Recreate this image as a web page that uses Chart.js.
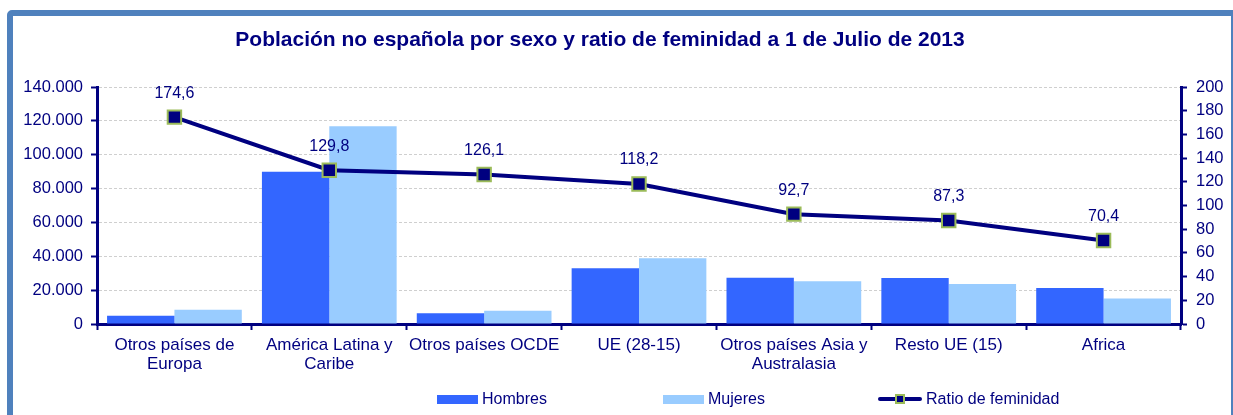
<!DOCTYPE html>
<html>
<head>
<meta charset="utf-8">
<script src="https://cdn.jsdelivr.net/npm/chart.js@4.4.0/dist/chart.umd.min.js"></script>
<style>
  html, body { margin: 0; padding: 0; background: #fff; overflow: hidden; }
  #wrap { position: relative; width: 1233px; height: 415px; overflow: hidden; }
  #frame {
    position: absolute; left: 7px; top: 10px; width: 1230px; height: 420px;
    border: 6px solid #4f81bd; border-radius: 5px; box-sizing: border-box;
  }
  #chart { position: absolute; left: 0; top: 0; }
  #legend {
    position: absolute; left: 437px; top: 389px; height: 20px;
    font-family: "Liberation Sans", Arial, sans-serif;
    font-size: 16px; color: #000080;
  }
  .item { position: absolute; top: 0; display: flex; align-items: center; height: 20px; white-space: nowrap; }
  .box { width: 41px; height: 9px; margin-right: 4px; }
  .lineKey { position: relative; width: 44px; height: 14px; margin-right: 4px; }
  .lineKey .ln { position: absolute; left: 0; right: 0; top: 5px; height: 4px; background: #000080; border-radius: 2px; }
  .lineKey .sq { position: absolute; left: 17px; top: 2px; width: 6px; height: 6px; background: #000080; border: 2px solid #9bbb59; }
</style>
</head>
<body>
<div id="wrap">
  <div id="frame"></div>
  <canvas id="chart" width="1233" height="415"></canvas>
  <div id="legend"></div>
</div>
<script>
// Chart data
const categories = [
    ['Otros países de', 'Europa'],
    ['América Latina y', 'Caribe'],
    'Otros países OCDE',
    'UE (28-15)',
    ['Otros países Asia y', 'Australasia'],
    'Resto UE (15)',
    'Africa'
];
const hombres = [4800, 90000, 6300, 32900, 27300, 27100, 21300];
const mujeres = [8400, 116800, 7900, 38900, 25300, 23600, 15000];
const ratioFeminidad = [174.6, 129.8, 126.1, 118.2, 92.7, 87.3, 70.4];
const leftTicks = [0, 20000, 40000, 60000, 80000, 100000, 120000, 140000];
const rightTicks = [0, 20, 40, 60, 80, 100, 120, 140, 160, 180, 200];
const titleText = 'Población no española por sexo y ratio de feminidad a 1 de Julio de 2013';

const NAVY = '#000080';
const FONT = '"Liberation Sans", Arial, sans-serif';

// Format numbers Spanish style
const fmtThousands = v => v.toLocaleString('de-DE');
const fmtRatio = v => v.toFixed(1).replace('.', ',');

// Title centred on the frame, and value labels above the ratio points
const extras = {
    id: 'extras',
    afterDraw(chart) {
        const ctx = chart.ctx;
        ctx.save();
        ctx.font = 'bold 21px ' + FONT;
        ctx.fillStyle = NAVY;
        ctx.textAlign = 'center';
        ctx.textBaseline = 'middle';
        ctx.fillText(titleText, 600, 40);

        const meta = chart.getDatasetMeta(0);
        ctx.font = '16px ' + FONT;
        ctx.textBaseline = 'bottom';
        meta.data.forEach((pt, i) => {
            ctx.fillText(fmtRatio(ratioFeminidad[i]), pt.x, pt.y - 16);
        });
        ctx.restore();
    }
};

const chart = new Chart(document.getElementById('chart'), {
    type: 'bar',
    data: {
        labels: categories,
        datasets: [
            {
                type: 'line',
                label: 'Ratio de feminidad',
                data: ratioFeminidad,
                yAxisID: 'y1',
                order: 0,
                borderColor: NAVY,
                borderWidth: 4,
                pointStyle: 'rect',
                pointRadius: 9.5,
                pointBackgroundColor: NAVY,
                pointBorderColor: '#9bbb59',
                pointBorderWidth: 2,
                tension: 0
            },
            {
                label: 'Hombres',
                data: hombres,
                yAxisID: 'y',
                order: 1,
                backgroundColor: '#3366ff',
                categoryPercentage: 0.87,
                barPercentage: 1.0
            },
            {
                label: 'Mujeres',
                data: mujeres,
                yAxisID: 'y',
                order: 2,
                backgroundColor: '#99ccff',
                categoryPercentage: 0.87,
                barPercentage: 1.0
            }
        ]
    },
    options: {
        responsive: false,
        animation: false,
        layout: { padding: { top: 87, right: 0, bottom: 30, left: 0 } },
        plugins: {
            legend: { display: false },
            tooltip: { enabled: false },
            title: { display: false }
        },
        scales: {
            x: {
                grid: { offset: true, drawOnChartArea: false, tickColor: NAVY, tickWidth: 2, tickLength: 6 },
                border: { color: NAVY, width: 3 },
                ticks: { color: NAVY, font: { family: FONT, size: 17, lineHeight: 1.12 }, maxRotation: 0, autoSkip: false, padding: 6 },
                afterFit: s => { s.height = 61; }
            },
            y: {
                position: 'left',
                min: 0,
                max: 140000,
                afterBuildTicks: s => { s.ticks = leftTicks.map(v => ({ value: v })); },
                grid: { color: '#cfcfcf', lineWidth: 1, tickColor: NAVY, tickWidth: 2, tickLength: 6 },
                border: { color: NAVY, width: 3, dash: [3, 2] },
                ticks: { color: NAVY, font: { family: FONT, size: 16.5 }, padding: 8, callback: v => fmtThousands(v) },
                afterFit: s => { s.width = 97; }
            },
            y1: {
                position: 'right',
                min: 0,
                max: 200,
                afterBuildTicks: s => { s.ticks = rightTicks.map(v => ({ value: v })); },
                grid: { drawOnChartArea: false, tickColor: NAVY, tickWidth: 2, tickLength: 6 },
                border: { color: NAVY, width: 3 },
                ticks: { color: NAVY, font: { family: FONT, size: 16.5 }, padding: 9 },
                afterFit: s => { s.width = 52; }
            }
        }
    },
    plugins: [extras]
});

// HTML legend built from the datasets
const legend = document.getElementById('legend');
const legendX = [0, 226, 441];
[1, 2, 0].forEach((idx, k) => {
    const ds = chart.data.datasets[idx];
    const item = document.createElement('div');
    item.className = 'item';
    item.style.left = legendX[k] + 'px';
    if (ds.type === 'line') {
        item.innerHTML = '<div class="lineKey"><div class="ln"></div><div class="sq"></div></div>';
    } else {
        item.innerHTML = '<div class="box" style="background:' + ds.backgroundColor + '"></div>';
    }
    const txt = document.createElement('span');
    txt.textContent = ds.label;
    item.appendChild(txt);
    legend.appendChild(item);
});
</script>
</body>
</html>
